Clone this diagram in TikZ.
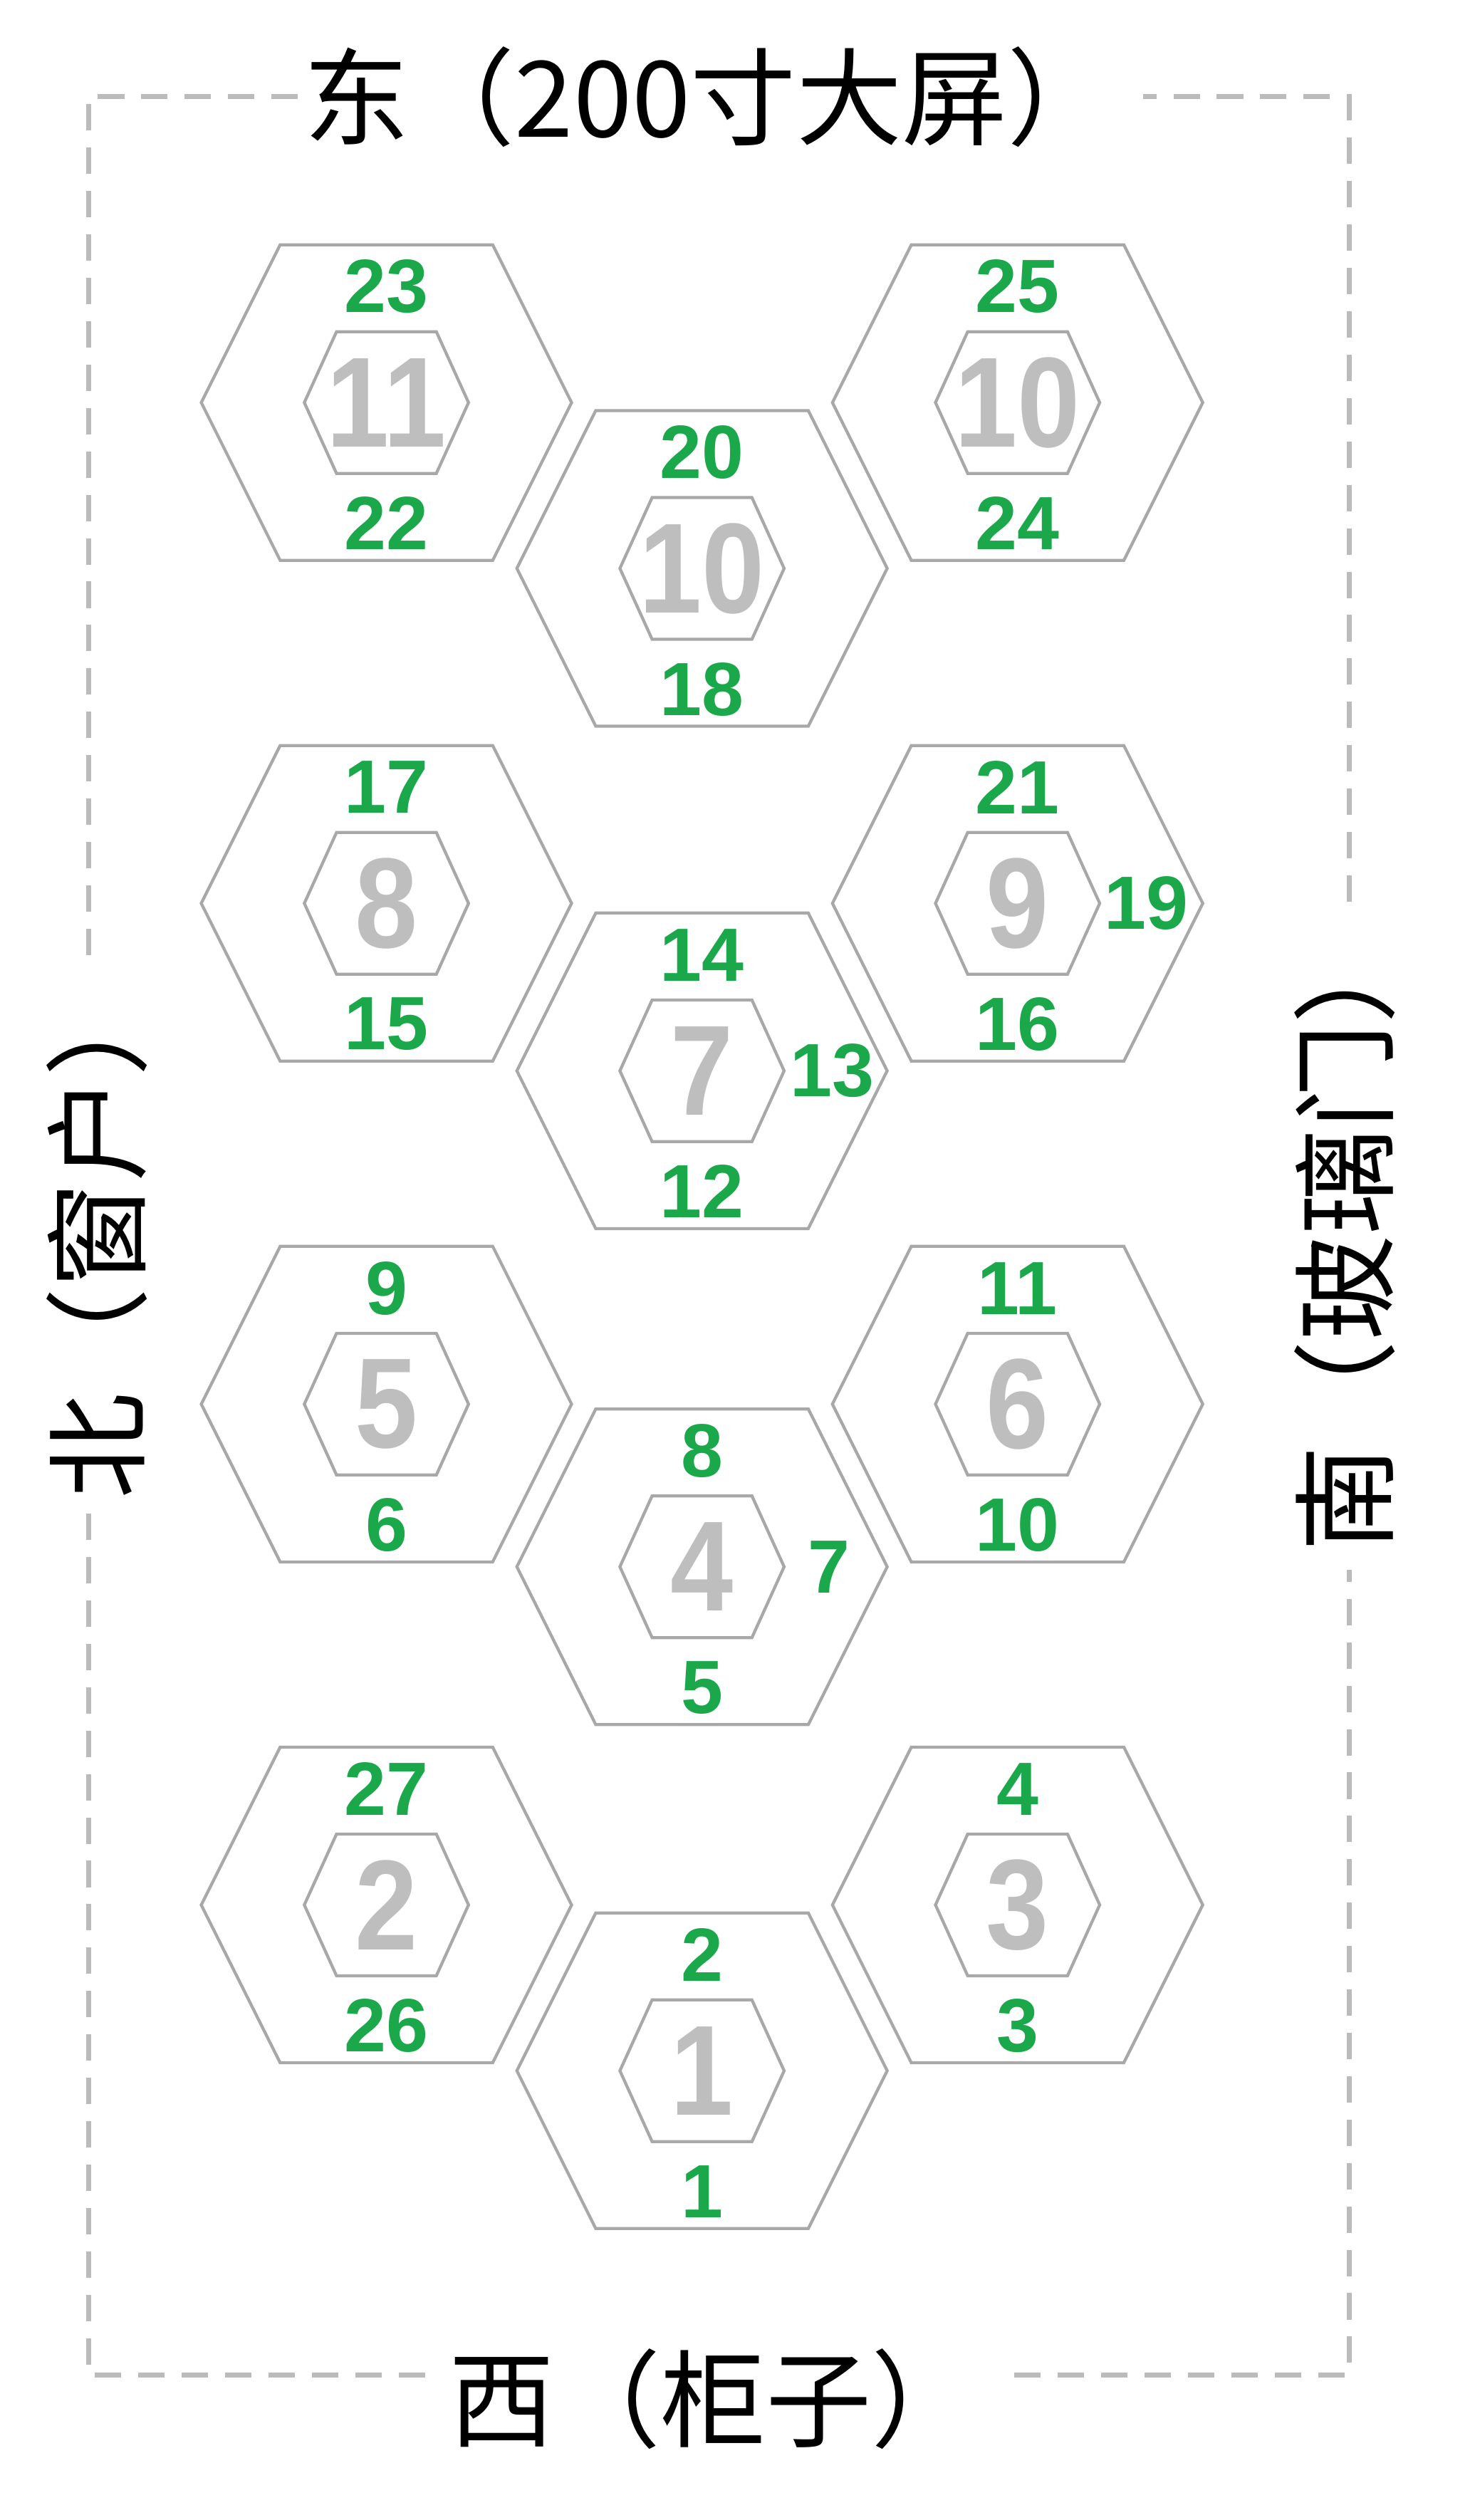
\documentclass[tikz,border=0pt]{standalone}
\usepackage{fontspec}
\setmainfont{Liberation Sans}
\newfontfamily\cjk{Noto Sans CJK SC}
\definecolor{grn}{HTML}{1AA84B}
\definecolor{gnum}{HTML}{BEBEBE}
\definecolor{hexl}{HTML}{A8A8A8}
\definecolor{dash}{HTML}{BBBBBB}
\begin{document}
\begin{tikzpicture}[x=0.03cm,y=-0.03cm,
 hexline/.style={draw=hexl,line width=1.6pt,line join=miter},
 big/.style={text=gnum,font=\fontsize{68}{68}\selectfont\bfseries,inner sep=0},
 lab/.style={text=grn,font=\fontsize{40}{40}\selectfont\bfseries,inner sep=0},
 ttl/.style={font=\cjk\fontsize{56}{56}\selectfont,inner sep=0},
 frame/.style={draw=dash,line width=2.5pt,dash pattern=on 14pt off 9pt}]
\useasboundingbox (0,0) rectangle (916,1565);
\newcommand{\hexa}[6]{%
 \coordinate (h#1) at (#2,#3);
 \draw[hexline,shift={(h#1)}] (-115,0) -- (-66,-98) -- (66,-98) -- (115,0) -- (66,98) -- (-66,98) -- cycle;
 \draw[hexline,shift={(h#1)}] (-51,0) -- (-31,-44) -- (31,-44) -- (51,0) -- (31,44) -- (-31,44) -- cycle;
 \node[big] (n#1) at (h#1) {\scalebox{0.88}[1]{#4}};
 \node[lab] (t#1) at (#2,#3-72) {#5};
 \node[lab] (b#1) at (#2,#3+75) {#6};}
\hexa{a}{240}{250}{11}{23}{22}
\hexa{b}{632}{250}{10}{25}{24}
\hexa{c}{436}{353}{10}{20}{18}
\hexa{d}{240}{561}{8}{17}{15}
\hexa{e}{632}{561}{9}{21}{16}
\hexa{f}{436}{665}{7}{14}{12}
\hexa{g}{240}{872}{5}{9}{6}
\hexa{h}{632}{872}{6}{11}{10}
\hexa{k}{436}{973}{4}{8}{5}
\hexa{l}{240}{1183}{2}{27}{26}
\hexa{m}{632}{1183}{3}{4}{3}
\hexa{n}{436}{1286}{1}{2}{1}
\node[lab] (s19) at (712,561) {19};
\node[lab] (s13) at (517,665) {13};
\node[lab] (s7) at (515,973) {7};
\node[ttl] (east) at (440,60) {东（200寸大屏）};
\node[ttl] (west) at (443,1490) {西（柜子）};
\node[ttl,rotate=90] (north) at (60,767) {北（窗户）};
\node[ttl,rotate=90] (south) at (835,767) {南（玻璃门）};
\coordinate (c1) at (55,60); \coordinate (c2) at (838,60);
\coordinate (c3) at (838,1475); \coordinate (c4) at (55,1475);
\draw[frame] (185,60) -- (c1) -- (55,595);
\draw[frame] (55,940) -- (c4) -- (265,1475);
\draw[frame] (630,1475) -- (c3) -- (838,975);
\draw[frame] (838,560) -- (c2) -- (710,60);
\end{tikzpicture}
\end{document}
